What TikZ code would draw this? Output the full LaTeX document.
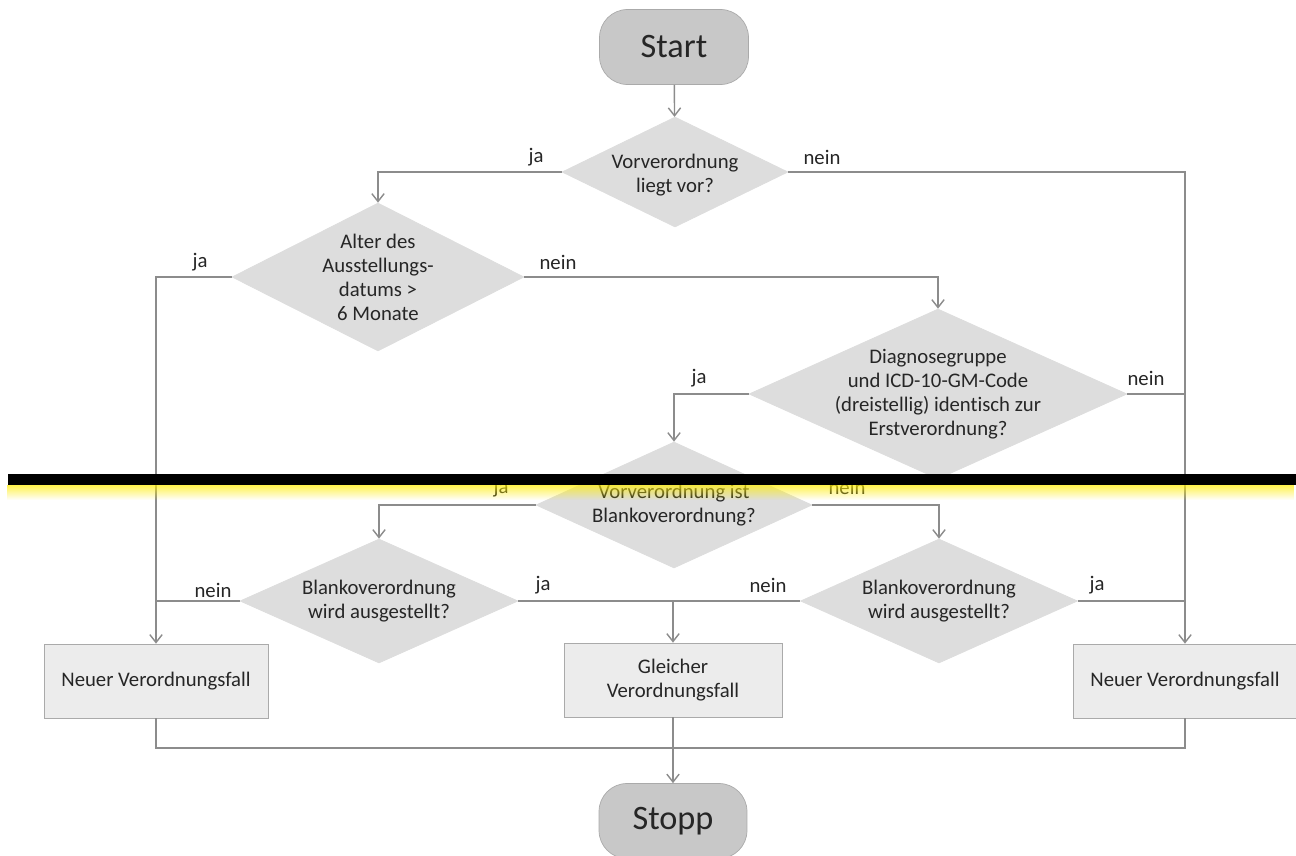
\documentclass[tikz,border=0pt]{standalone}
\usepackage{fontspec}
\setmainfont{Carlito}[Ligatures=NoCommon]
\usetikzlibrary{shapes.geometric,arrows.meta,fadings}
\definecolor{lgray}{RGB}{140,140,140}
\definecolor{termfill}{RGB}{200,200,200}
\definecolor{diafill}{RGB}{221,221,221}
\definecolor{boxfill}{RGB}{236,236,236}
\definecolor{boxline}{RGB}{170,170,170}
\definecolor{txtcol}{RGB}{38,38,38}
\tikzset{
  every node/.style={text=txtcol, font=\fontsize{11.8}{13.7}\selectfont},
  term/.style={rounded corners=0.56cm, fill=termfill, draw=boxline, minimum width=2.98cm, minimum height=1.5cm, font=\fontsize{19.5}{22}\selectfont},
  dia/.style={diamond, fill=diafill, draw=diafill, inner sep=0pt},
  dtext/.style={align=center},
  fall/.style={fill=boxfill, draw=boxline, minimum height=1.48cm, align=center},
  line/.style={draw=lgray, line width=0.8pt},
  arr/.style={line, -{Straight Barb[length=4.5pt,width=7pt]}},
  answer/.style={inner sep=1pt}
}
\begin{document}
\begin{tikzpicture}[x=0.02cm, y=-0.02cm]
\useasboundingbox (0,0) rectangle (1296,856);
\fill[white] (0,0) rectangle (1296,856);
\node[term] (start) at (674,47) {Start};
\node[dia, minimum width=4.52cm, minimum height=2.2cm] (d1) at (675,172) {};
\node[dtext] (d1t) at (675,175) {Vorverordnung\\liegt vor?};
\node[dia, minimum width=5.84cm, minimum height=2.96cm] (d2) at (378,277) {};
\node[dtext] (d2t) at (d2) {Alter des\\Ausstellungs-\\datums >\\6 Monate};
\node[dia, minimum width=7.56cm, minimum height=3.4cm] (d3) at (938,394) {};
\node[dtext] (d3t) at (d3) {Diagnosegruppe\\und ICD-10-GM-Code\\(dreistellig) identisch zur\\Erstverordnung?};
\node[dia, minimum width=5.52cm, minimum height=2.52cm] (d4) at (674,505) {};
\node[dtext] (d4t) at (d4) {Vorverordnung ist\\Blankoverordnung?};
\node[dia, minimum width=5.56cm, minimum height=2.48cm] (d5) at (379,601) {};
\node[dtext] (d5t) at (d5) {Blankoverordnung\\wird ausgestellt?};
\node[dia, minimum width=5.54cm, minimum height=2.48cm] (d6) at (939,601) {};
\node[dtext] (d6t) at (d6) {Blankoverordnung\\wird ausgestellt?};
\node[fall, minimum width=4.48cm] (neul) at (156,681) {Neuer Verordnungsfall};
\node[fall, minimum width=4.36cm] (gleich) at (673,680) {Gleicher\\Verordnungsfall};
\node[fall, minimum width=4.48cm] (neur) at (1185,681) {Neuer Verordnungsfall};
\node[term, minimum width=2.96cm] (stopp) at (673,821) {Stopp};
\coordinate (join) at (673,748);
% Verbindungen
\draw[arr] (start) -- (d1);
\draw[arr] (d1.west) -| (d2.north);
\draw[arr] (d1.east) -| (neur.north);
\draw[arr] (d2.west) -| (neul.north);
\draw[arr] (d2.east) -| (d3.north);
\draw[arr] (d3.west) -| (d4.north);
\draw[line] (d3.east) -- (d3.east -| neur.north);
\draw[arr] (d4.west) -| (d5.north);
\draw[arr] (d4.east) -| (d6.north);
\draw[line] (d5.west) -- (d5.west -| neul.north);
\draw[line] (d5.east) -- (d6.west);
\draw[arr] (d5.east -| gleich.north) -- (gleich.north);
\draw[line] (d6.east) -- (d6.east -| neur.north);
\draw[line] (neul.south) |- (join) -| (neur.south);
\draw[arr] (gleich.south) -- (stopp.north);
% ja / nein
\node[answer] (a1) at (536,157) {ja};
\node[answer] (a2) at (822,157) {nein};
\node[answer] (a3) at (200,262) {ja};
\node[answer] (a4) at (558,262) {nein};
\node[answer] (a5) at (699,378) {ja};
\node[answer] (a6) at (1146,378) {nein};
\node[answer] (a7) at (501,488) {ja};
\node[answer] (a8) at (847,487) {nein};
\node[answer] (a9) at (213,590) {nein};
\node[answer] (a10) at (543,585) {ja};
\node[answer] (a11) at (768,585) {nein};
\node[answer] (a12) at (1097,585) {ja};
% Schnittkante
\fill[yellow!95!orange, fill opacity=0.7, path fading=south] (8,485) rectangle (1296,500);
\fill[black] (8,474) rectangle (1296,485);
\end{tikzpicture}
\end{document}
